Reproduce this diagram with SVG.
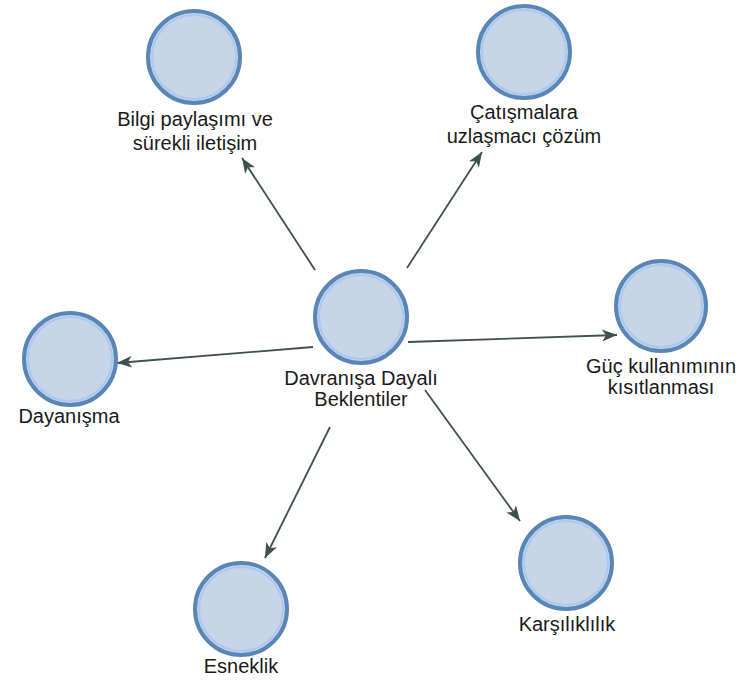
<svg xmlns="http://www.w3.org/2000/svg" width="745" height="681" viewBox="0 0 745 681">
  <style>
    .disc { fill: #c7d5e8; stroke: #5a85b7; stroke-width: 4; }
    .rim { fill: none; stroke: #aac9ee; stroke-width: 2; }
    .label { font-family: "Liberation Sans", Arial, sans-serif; font-size: 20px; fill: #1a1a1a; text-anchor: middle; }
    .link { stroke: #3e514e; stroke-width: 1.8; fill: none; marker-end: url(#head); }
  </style>
  <defs>
    <marker id="head" markerWidth="16" markerHeight="12" viewBox="0 0 16 12" refX="15" refY="6" orient="auto" markerUnits="userSpaceOnUse">
      <path d="M0,0 L15,6 L0,12 L4,6 Z" fill="#3e514e"/>
    </marker>
  </defs>
  <rect width="745" height="681" fill="#ffffff"/>

  <g id="connectors">
    <line class="link" x1="315" y1="270" x2="242" y2="158"/>
    <line class="link" x1="407" y1="268" x2="482" y2="152"/>
    <line class="link" x1="313" y1="347" x2="117" y2="363"/>
    <line class="link" x1="408" y1="342" x2="617" y2="335"/>
    <line class="link" x1="330" y1="427" x2="265" y2="558"/>
    <line class="link" x1="425" y1="390" x2="520" y2="521"/>
  </g>

  <g id="center">
    <circle class="disc" cx="361" cy="317" r="46"/>
    <circle class="rim" cx="361" cy="317" r="42"/>
    <text class="label" x="361" y="385">Davranışa Dayalı</text>
    <text class="label" x="361" y="406">Beklentiler</text>
  </g>

  <g id="bilgi">
    <circle class="disc" cx="194" cy="57" r="46"/>
    <circle class="rim" cx="194" cy="57" r="42"/>
    <text class="label" x="195" y="126">Bilgi paylaşımı ve</text>
    <text class="label" x="195" y="150">sürekli iletişim</text>
  </g>

  <g id="catisma">
    <circle class="disc" cx="524" cy="52" r="46"/>
    <circle class="rim" cx="524" cy="52" r="42"/>
    <text class="label" x="524" y="119">Çatışmalara</text>
    <text class="label" x="524" y="143">uzlaşmacı çözüm</text>
  </g>

  <g id="dayanisma">
    <circle class="disc" cx="70" cy="359" r="46"/>
    <circle class="rim" cx="70" cy="359" r="42"/>
    <text class="label" x="69" y="423">Dayanışma</text>
  </g>

  <g id="guc">
    <circle class="disc" cx="661" cy="306" r="45"/>
    <circle class="rim" cx="661" cy="306" r="41"/>
    <text class="label" x="661" y="373">Güç kullanımının</text>
    <text class="label" x="661" y="394">kısıtlanması</text>
  </g>

  <g id="esneklik">
    <circle class="disc" cx="241" cy="609" r="46"/>
    <circle class="rim" cx="241" cy="609" r="42"/>
    <text class="label" x="241" y="673">Esneklik</text>
  </g>

  <g id="karsiliklilik">
    <circle class="disc" cx="566" cy="563" r="46"/>
    <circle class="rim" cx="566" cy="563" r="42"/>
    <text class="label" x="567" y="631">Karşılıklılık</text>
  </g>
</svg>
